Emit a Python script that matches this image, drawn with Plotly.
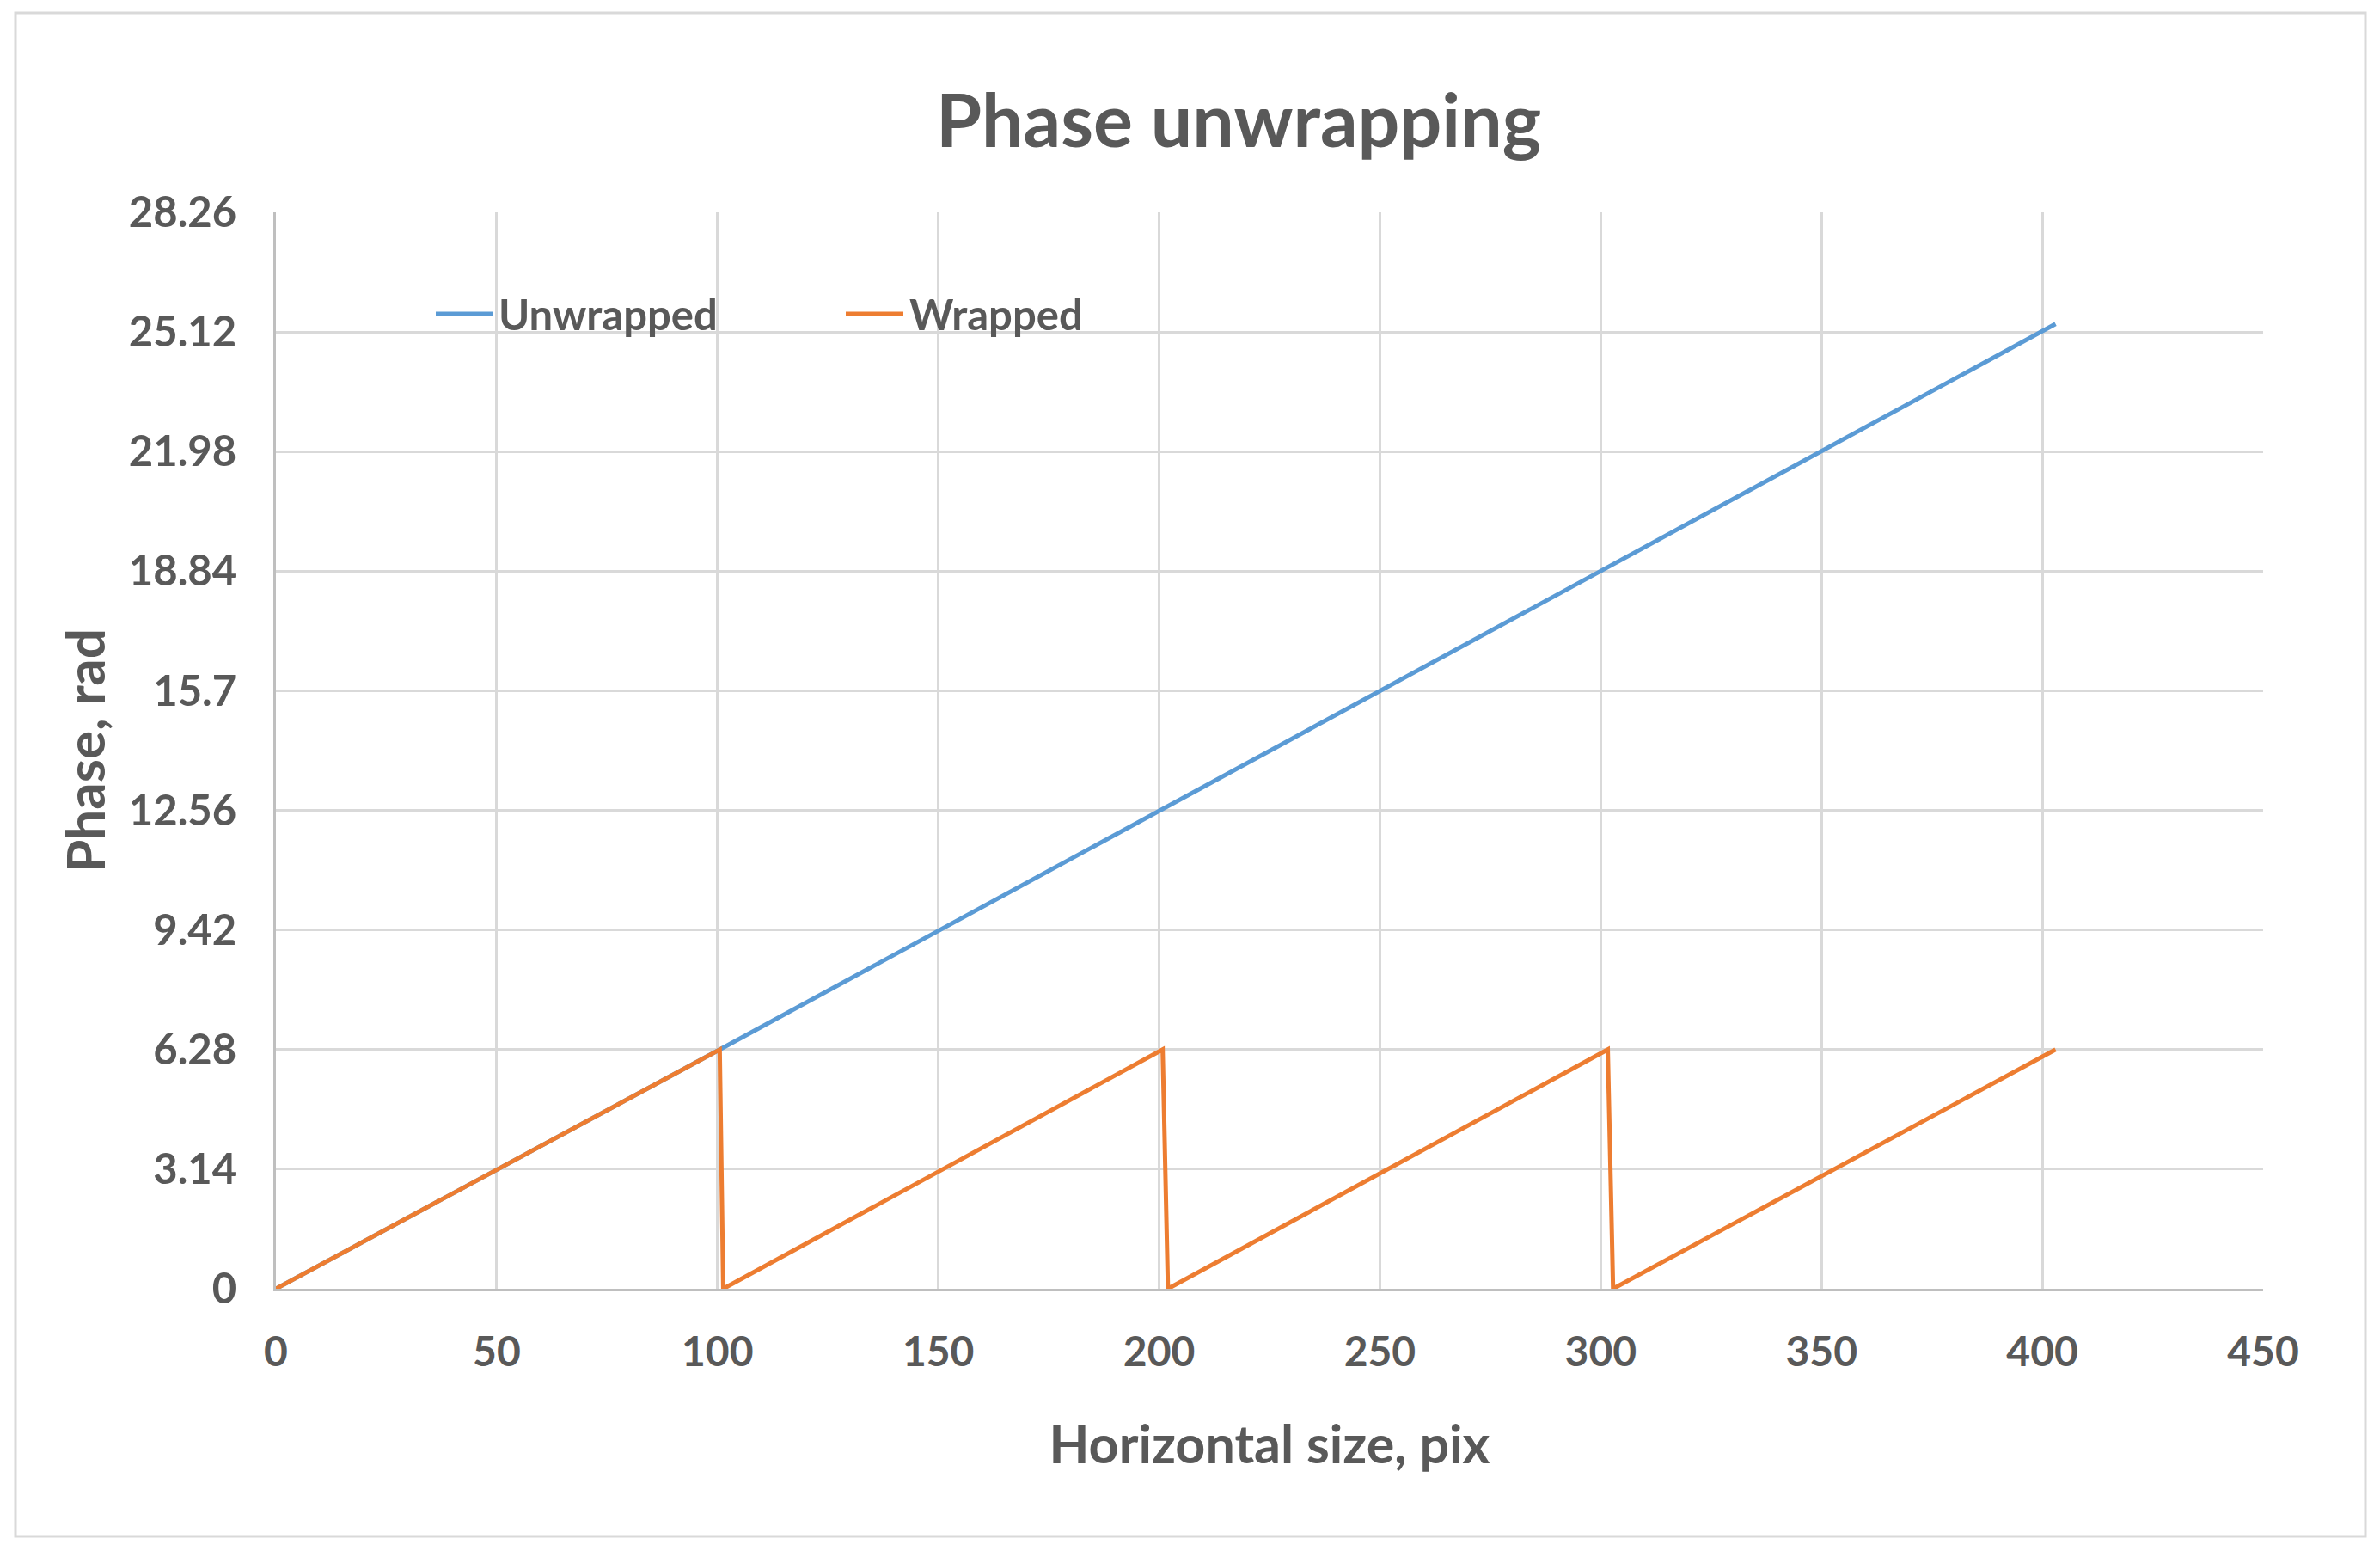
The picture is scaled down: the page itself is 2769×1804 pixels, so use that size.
import plotly.graph_objects as go

# ---- data ----
series_names = ["Unwrapped", "Wrapped"]
series_colors = ["#5B9BD5", "#ED7D31"]

unwrapped_x = [0, 100.5, 403]
unwrapped_y = [0, 6.28, 25.33]

wrapped_x = [0, 100.5, 101.3, 200.8, 202.0, 301.6, 302.8, 403]
wrapped_y = [0, 6.28, 0, 6.28, 0, 6.28, 0, 6.28]

y_tickvals = [0, 3.14, 6.28, 9.42, 12.56, 15.7, 18.84, 21.98, 25.12, 28.26]
y_ticktext = ["0", "3.14", "6.28", "9.42", "12.56", "15.7", "18.84", "21.98", "25.12", "28.26"]
x_tickvals = [0, 50, 100, 150, 200, 250, 300, 350, 400, 450]

W, H = 2769, 1804
OFF = 8  # page body offset
L, R, T, B = 321 - OFF, 136 + OFF, 247 - OFF, 305 + OFF
pw, ph = W - L - R, H - T - B

FONT = "Lato, 'Open Sans', sans-serif"
TXT = "#595959"
GRID = "#D9D9D9"

fig = go.Figure()
fig.add_trace(go.Scatter(x=unwrapped_x, y=unwrapped_y, mode="lines", name=series_names[0],
                         line=dict(color=series_colors[0], width=5), showlegend=False))
fig.add_trace(go.Scatter(x=wrapped_x, y=wrapped_y, mode="lines", name=series_names[1],
                         line=dict(color=series_colors[1], width=5), showlegend=False))


def px_x(xpix):
    return (xpix - OFF - L) / pw


def px_y(ypix):
    return (H - B - (ypix - OFF)) / ph


# outer chart border
fig.add_shape(type="rect", xref="paper", yref="paper",
              x0=px_x(18), x1=px_x(2752), y0=px_y(1787), y1=px_y(15),
              line=dict(color="#D9D9D9", width=3), fillcolor="rgba(0,0,0,0)", layer="below")

# legend (line sample + label), placed as in the reference
legend_y = 365
legend_items = [(507, 574, 578), (984, 1051, 1056)]
for name, color, (lx0, lx1, tx) in zip(series_names, series_colors, legend_items):
    fig.add_shape(type="line", xref="paper", yref="paper",
                  x0=px_x(lx0), x1=px_x(lx1), y0=px_y(legend_y), y1=px_y(legend_y),
                  line=dict(color=color, width=5))
    fig.add_annotation(xref="paper", yref="paper", x=px_x(tx), y=px_y(legend_y),
                       xanchor="left", yanchor="middle", showarrow=False,
                       text="<b>%s</b>" % name, font=dict(size=49, color=TXT, family=FONT))

fig.update_layout(
    width=W, height=H,
    margin=dict(l=L, r=R, t=T, b=B, autoexpand=False),
    paper_bgcolor="white", plot_bgcolor="white",
    font=dict(family=FONT, color=TXT),
    title=dict(text="<b>Phase unwrapping</b>", font=dict(size=86, color=TXT, family=FONT),
               x=(1441 - OFF) / W, xanchor="center", xref="container",
               y=1 - (141 - OFF) / H, yanchor="middle", yref="container"),
    showlegend=False,
    xaxis=dict(range=[0, 450], tickvals=x_tickvals, showgrid=True, gridcolor=GRID, gridwidth=3,
               zeroline=False, showline=True, linecolor="#BFBFBF", linewidth=3,
               ticks="outside", ticklen=0, tickcolor="white",
               tickfont=dict(size=48, color=TXT, family=FONT, weight="bold"),
               ticklabelstandoff=29,
               title=dict(text="<b>Horizontal size, pix</b>", font=dict(size=61, color=TXT, family=FONT),
                          standoff=62)),
    yaxis=dict(range=[0, 28.26], tickvals=y_tickvals, ticktext=y_ticktext,
               showgrid=True, gridcolor=GRID, gridwidth=3,
               zeroline=False, showline=True, linecolor="#BFBFBF", linewidth=3,
               ticks="outside", ticklen=0, tickcolor="white",
               tickfont=dict(size=49, color=TXT, family=FONT, weight="bold"),
               ticklabelstandoff=33,
               title=dict(text="<b>Phase, rad</b>", font=dict(size=62, color=TXT, family=FONT),
                          standoff=8)),
)

fig.write_html("out.html")
